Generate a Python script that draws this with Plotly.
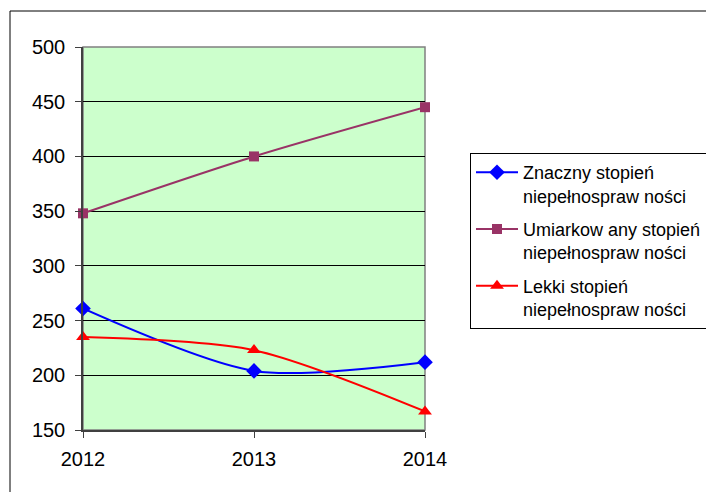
import plotly.graph_objects as go

years = [2012, 2013, 2014]
znaczny = [261, 204, 212]
umiarkowany = [348, 400, 445]
lekki = [235, 223, 167]
names = ["Znaczny stopień<br>niepełnospraw ności",
         "Umiarkow any stopień<br>niepełnospraw ności",
         "Lekki stopień<br>niepełnospraw ności"]
y_ticks = [150, 200, 250, 300, 350, 400, 450, 500]

FONT = "Liberation Sans, Arial, sans-serif"
W, H = 706, 492
L, R, T, B = 83, 425, 47, 430

fig = go.Figure()
specs = [
    (znaczny, names[0], "#0000FF", "diamond", 12),
    (umiarkowany, names[1], "#993366", "square", 10),
    (lekki, names[2], "#FF0000", "triangle-up", 12),
]
for i, (vals, nm, col, sym, sz) in enumerate(specs):
    fig.add_trace(go.Scatter(
        x=years, y=vals, name=nm, mode="lines+markers",
        line=dict(color=col, width=2, shape="spline", smoothing=0.8),
        marker=dict(color=col, symbol=sym, size=sz, line=dict(width=0)),
        cliponaxis=False, legendgroup=f"g{i}",
    ))

px = lambda x: (x - L) / (R - L)
py = lambda y: (B - y) / (B - T)

fig.update_layout(
    width=W, height=H,
    margin=dict(l=L, r=W - R, t=T, b=H - B, autoexpand=False),
    paper_bgcolor="white", plot_bgcolor="#CCFFCC",
    font=dict(family=FONT, size=20, color="black"),
    showlegend=True,
    legend=dict(
        x=px(470), y=py(153), xanchor="left", yanchor="top",
        bordercolor="black", borderwidth=1, bgcolor="white",
        font=dict(family=FONT, size=18, color="black"),
        valign="top", traceorder="grouped", tracegroupgap=7,
        itemwidth=42,
    ),
    xaxis=dict(
        range=[2012, 2014], tickvals=years, ticktext=[str(y) for y in years],
        showgrid=False, zeroline=False, showline=True, linecolor="#404040", linewidth=1.5,
        ticks="outside", ticklen=6, tickcolor="#404040", tickwidth=1,
        ticklabelstandoff=4,
    ),
    yaxis=dict(
        range=[150, 500], tickvals=y_ticks, showgrid=True, gridcolor="black", gridwidth=1,
        zeroline=False, showline=True, linecolor="#404040", linewidth=1.5,
        ticks="outside", ticklen=6, tickcolor="#404040", tickwidth=1,
        ticklabelstandoff=6,
    ),
    shapes=[
        dict(type="rect", xref="paper", yref="paper", x0=0, x1=1, y0=0, y1=1,
             line=dict(color="#808080", width=1.5), layer="below"),
        dict(type="rect", xref="paper", yref="paper",
             x0=px(10), x1=px(760), y0=py(540), y1=py(11),
             line=dict(color="black", width=1)),
    ],
)

fig.write_html(
    "out.html",
    config={"displayModeBar": False},
    post_script="document.body.style.margin='0';document.body.style.overflow='hidden';",
)
